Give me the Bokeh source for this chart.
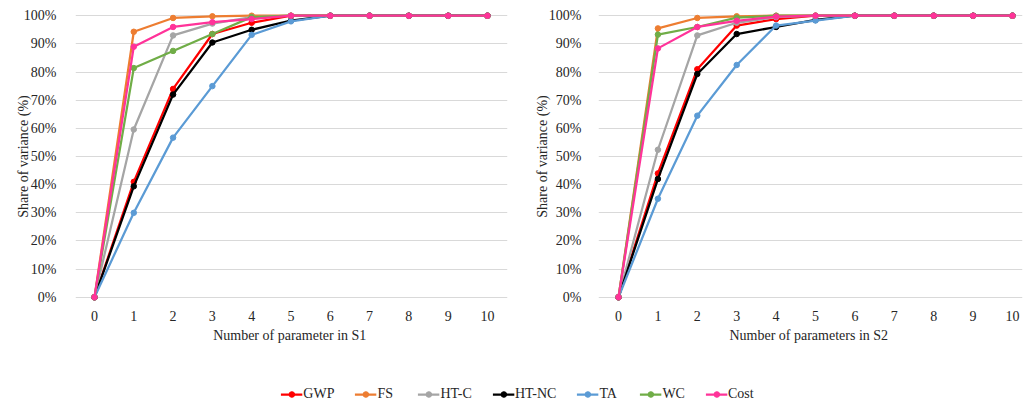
from bokeh.plotting import figure
from bokeh.layouts import column, row
from bokeh.models import Range1d, FixedTicker, PrintfTickFormatter, Legend, LegendItem
from bokeh.embed import file_html
from bokeh.resources import INLINE

x_vals = [0, 1, 2, 3, 4, 5, 6, 7, 8, 9, 10]
series_names = ["GWP", "FS", "HT-C", "HT-NC", "TA", "WC", "Cost"]
series_colors = ["#FF0000", "#ED7D31", "#A5A5A5", "#000000", "#5B9BD5", "#70AD47", "#FF3399"]

s1_gwp = [0, 41.0, 74.0, 93.5, 97.5, 100, 100, 100, 100, 100, 100]
s1_fs = [0, 94.3, 99.2, 99.8, 100, 100, 100, 100, 100, 100, 100]
s1_htc = [0, 59.6, 93.0, 97.2, 99.5, 100, 100, 100, 100, 100, 100]
s1_htnc = [0, 39.4, 72.0, 90.5, 95.0, 98.3, 100, 100, 100, 100, 100]
s1_ta = [0, 30.0, 56.7, 75.0, 93.2, 98.0, 100, 100, 100, 100, 100]
s1_wc = [0, 81.4, 87.5, 93.5, 99.5, 100, 100, 100, 100, 100, 100]
s1_cost = [0, 89.0, 96.0, 97.7, 98.8, 100, 100, 100, 100, 100, 100]

s2_gwp = [0, 44.0, 81.0, 96.5, 98.8, 100, 100, 100, 100, 100, 100]
s2_fs = [0, 95.5, 99.2, 99.8, 100, 100, 100, 100, 100, 100, 100]
s2_htc = [0, 52.4, 93.0, 97.5, 99.5, 100, 100, 100, 100, 100, 100]
s2_htnc = [0, 42.0, 79.3, 93.5, 96.0, 98.5, 100, 100, 100, 100, 100]
s2_ta = [0, 35.0, 64.5, 82.5, 96.5, 98.3, 100, 100, 100, 100, 100]
s2_wc = [0, 93.3, 96.0, 99.3, 100, 100, 100, 100, 100, 100, 100]
s2_cost = [0, 88.4, 96.0, 98.2, 99.7, 100, 100, 100, 100, 100, 100]

s1_series = [s1_gwp, s1_fs, s1_htc, s1_htnc, s1_ta, s1_wc, s1_cost]
s2_series = [s2_gwp, s2_fs, s2_htc, s2_htnc, s2_ta, s2_wc, s2_cost]

y_ticks = [0, 10, 20, 30, 40, 50, 60, 70, 80, 90, 100]
x_ticks = x_vals

FONT = "Liberation Serif"
TXT = "#262626"


def make_panel(series, xlabel, xr, border_left, border_right, tick_standoff, label_standoff):
    p = figure(width=512, height=350, output_backend="svg", toolbar_location=None,
               x_range=Range1d(*xr), y_range=Range1d(-1.5, 101.5),
               min_border_left=border_left, min_border_right=border_right,
               min_border_top=11, min_border_bottom=49)
    p.outline_line_color = None
    p.background_fill_color = "white"
    p.border_fill_color = "white"
    p.xgrid.visible = False
    p.ygrid.ticker = FixedTicker(ticks=y_ticks)
    p.ygrid.grid_line_color = "#D9D9D9"
    p.ygrid.grid_line_width = 1
    p.yaxis.ticker = FixedTicker(ticks=y_ticks)
    p.xaxis.ticker = FixedTicker(ticks=x_ticks)
    p.yaxis.formatter = PrintfTickFormatter(format="%d%%")
    for ax in (p.xaxis, p.yaxis):
        ax.axis_line_color = None
        ax.major_tick_line_color = None
        ax.minor_tick_line_color = None
        ax.major_label_text_font = FONT
        ax.major_label_text_font_size = "14px"
        ax.major_label_text_color = TXT
        ax.axis_label_text_font = FONT
        ax.axis_label_text_font_size = "14px"
        ax.axis_label_text_font_style = "normal"
        ax.axis_label_text_color = TXT
    p.yaxis.major_label_standoff = tick_standoff
    p.xaxis.major_label_standoff = 3
    p.yaxis.axis_label = "Share of variance (%)"
    p.yaxis.axis_label_standoff = label_standoff
    p.xaxis.axis_label = xlabel
    p.xaxis.axis_label_standoff = 4
    for ys, c in zip(series, series_colors):
        p.line(x_vals, ys, line_color=c, line_width=2.25)
        p.scatter(x_vals, ys, size=5.5, fill_color=c, line_color=c, marker="circle")
    return p


p1 = make_panel(s1_series, "Number of parameter  in S1", (-0.483, 10.51), 75, 5, 13, -10)
p2 = make_panel(s2_series, "Number of parameters  in S2", (-0.508, 10.254), 86, 2, 11, -4)

pleg = figure(width=1024, height=55, output_backend="svg", toolbar_location=None,
              x_range=Range1d(0, 1), y_range=Range1d(0, 1),
              min_border_left=10, min_border_right=0, min_border_top=0, min_border_bottom=0)
pleg.axis.visible = False
pleg.grid.visible = False
pleg.outline_line_color = None
items = []
for name, c in zip(series_names, series_colors):
    r1 = pleg.line([-10, -9], [-10, -9], line_color=c, line_width=2.25)
    r2 = pleg.scatter([-10], [-10], size=5.5, fill_color=c, line_color=c, marker="circle")
    items.append(LegendItem(label=name, renderers=[r1, r2]))
legend = Legend(items=items, orientation="horizontal", location="bottom_center",
                glyph_width=22, glyph_height=14, label_standoff=1, spacing=20,
                label_text_font=FONT, label_text_font_size="14px", label_text_color=TXT,
                border_line_color=None, background_fill_alpha=0, margin=3, padding=2,
                label_height=14)
pleg.add_layout(legend, "center")

layout = column(row(p1, p2), pleg)
open("out.html", "w").write(file_html(layout, INLINE))
